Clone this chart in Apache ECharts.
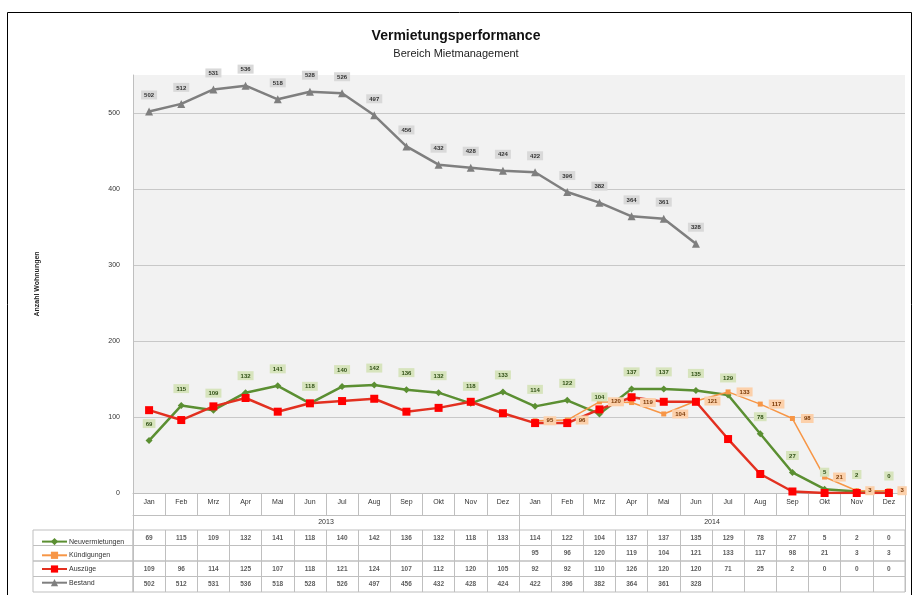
<!DOCTYPE html>
<html>
<head>
<meta charset="utf-8">
<script src="https://cdn.jsdelivr.net/npm/echarts@6/dist/echarts.min.js"></script>
<style>
  html, body { margin: 0; padding: 0; background: #fff; }
  #chart { width: 912px; height: 595px; }
</style>
</head>
<body>
<div id="chart"></div>
<script>
// Kategorien
var months = ["Jan", "Feb", "Mrz", "Apr", "Mai", "Jun", "Jul", "Aug", "Sep", "Okt", "Nov", "Dez",
              "Jan", "Feb", "Mrz", "Apr", "Mai", "Jun", "Jul", "Aug", "Sep", "Okt", "Nov", "Dez"];
var years = ["2013", "2014"];
var yTicks = [0, 100, 200, 300, 400, 500];

// Werte
var neuvermietungen = [69, 115, 109, 132, 141, 118, 140, 142, 136, 132, 118, 133,
                       114, 122, 104, 137, 137, 135, 129, 78, 27, 5, 2, 0];
var kuendigungen = [null, null, null, null, null, null, null, null, null, null, null, null,
                    95, 96, 120, 119, 104, 121, 133, 117, 98, 21, 3, 3];
var auszuege = [109, 96, 114, 125, 107, 118, 121, 124, 107, 112, 120, 105,
                92, 92, 110, 126, 120, 120, 71, 25, 2, 0, 0, 0];
var bestand = [502, 512, 531, 536, 518, 528, 526, 497, 456, 432, 428, 424,
               422, 396, 382, 364, 361, 328, null, null, null, null, null, null];

var names = ["Neuvermietungen", "Kündigungen", "Auszüge", "Bestand"];
var rows = [neuvermietungen, kuendigungen, auszuege, bestand];

var FONT = "Liberation Sans";
var LINE = "#bfbfbf";
var ROW_TOP = 530;
var ROW_H = 15.5;

var grids = [{ left: 133, right: 7, top: 75, bottom: 102, show: true,
               backgroundColor: "#f2f2f2", borderWidth: 0 }];
var xAxes = [
  { gridIndex: 0, type: "category", data: months,
    axisLine: { lineStyle: { color: LINE } },
    axisTick: { show: true, interval: 0, length: 22, lineStyle: { color: LINE } },
    axisLabel: { fontSize: 7, color: "#333", margin: 6, fontFamily: FONT, interval: 0 } },
  { gridIndex: 0, type: "category", data: years, position: "bottom", offset: 22,
    axisLine: { lineStyle: { color: LINE } },
    axisTick: { show: true, interval: 0, length: 15, lineStyle: { color: LINE } },
    axisLabel: { fontSize: 7, color: "#333", margin: 4, fontFamily: FONT } }
];
var yAxes = [{
  gridIndex: 0, type: "value", min: 0, max: 550, interval: 100,
  name: "Anzahl Wohnungen", nameLocation: "middle", nameGap: 92,
  nameTextStyle: { fontSize: 7, fontWeight: "bold", color: "#222", fontFamily: FONT },
  axisLine: { show: true, lineStyle: { color: LINE } },
  axisTick: { show: false },
  axisLabel: { fontSize: 7, color: "#333", margin: 13, fontFamily: FONT, showMaxLabel: false },
  splitLine: { lineStyle: { color: "#c8c8c8" }, showMaxLine: false }
}];

function labelStyle(bg, color, pos, dist) {
  return { show: true, position: pos, distance: dist, backgroundColor: bg, color: color,
           padding: [2, 3, 1, 3], fontSize: 6, fontWeight: "bold", fontFamily: FONT };
}

var series = [
  { name: "Neuvermietungen", type: "line", data: neuvermietungen,
    xAxisIndex: 0, yAxisIndex: 0,
    symbol: "diamond", symbolSize: 7,
    lineStyle: { color: "#5b8f32", width: 2.5 }, itemStyle: { color: "#5b8f32" },
    label: labelStyle("#d7e4bd", "#2f4f14", "top", 9) },
  { name: "Kündigungen", type: "line", data: kuendigungen,
    xAxisIndex: 0, yAxisIndex: 0,
    symbol: "rect", symbolSize: 5,
    lineStyle: { color: "#f79646", width: 1.5 }, itemStyle: { color: "#f79646" },
    label: labelStyle("#fcd0aa", "#7a3a08", "right", 6) },
  { name: "Auszüge", type: "line", data: auszuege,
    xAxisIndex: 0, yAxisIndex: 0,
    symbol: "rect", symbolSize: 8,
    lineStyle: { color: "#e23020", width: 2.5 }, itemStyle: { color: "#ff0000" } },
  { name: "Bestand", type: "line", data: bestand,
    xAxisIndex: 0, yAxisIndex: 0,
    symbol: "triangle", symbolSize: 8,
    lineStyle: { color: "#7f7f7f", width: 2.5 }, itemStyle: { color: "#7f7f7f" },
    label: labelStyle("#d9d9d9", "#333", "top", 8) }
];

// Datentabelle unter dem Diagramm
rows.forEach(function (vals, r) {
  var top = ROW_TOP + r * ROW_H;
  // Zelle mit Legende
  grids.push({ left: 33, width: 100, top: top, height: ROW_H, show: true,
               borderColor: LINE, borderWidth: 1, backgroundColor: "transparent" });
  var gLeg = grids.length - 1;
  xAxes.push({ gridIndex: gLeg, type: "value", show: false });
  yAxes.push({ gridIndex: gLeg, type: "value", show: false });
  // Zeile mit Werten
  grids.push({ left: 133, right: 7, top: top, height: ROW_H, show: true,
               borderColor: LINE, borderWidth: 1, backgroundColor: "transparent" });
  var g = grids.length - 1;
  xAxes.push({ gridIndex: g, type: "category", data: months,
               axisLine: { show: false }, axisTick: { show: false }, axisLabel: { show: false },
               splitLine: { show: true, interval: 0, lineStyle: { color: LINE } } });
  yAxes.push({ gridIndex: g, type: "value", min: -1, max: 1, show: false,
               splitLine: { show: false } });
  var cells = [];
  vals.forEach(function (v, i) { if (v != null) cells.push([i, 0, v]); });
  series.push({ type: "scatter", xAxisIndex: xAxes.length - 1, yAxisIndex: yAxes.length - 1,
                data: cells, symbolSize: 2, itemStyle: { color: "rgba(0,0,0,0)" }, silent: true,
                label: { show: true, position: "inside", fontSize: 6.5, fontWeight: "bold",
                         color: "#333", fontFamily: FONT,
                         formatter: function (p) { return p.value[2]; } } });
});

var chart = echarts.init(document.getElementById("chart"));
chart.setOption({
  animation: false,
  title: {
    text: "Vermietungsperformance", subtext: "Bereich Mietmanagement",
    left: "center", top: 24, itemGap: 5,
    textStyle: { fontSize: 14, fontWeight: "bold", color: "#111", fontFamily: FONT },
    subtextStyle: { fontSize: 11, color: "#222", fontFamily: FONT }
  },
  legend: {
    data: names, orient: "vertical", left: 36, top: ROW_TOP + 3,
    itemWidth: 25, itemHeight: 9, itemGap: 6.5, selectedMode: false,
    textStyle: { fontSize: 7, color: "#333", fontFamily: FONT, padding: [0, 0, 0, -3] }
  },
  graphic: [{ type: "rect", left: 5, top: 10, shape: { width: 904, height: 600 },
              style: { fill: "none", stroke: "#000", lineWidth: 1 }, silent: true }],
  grid: grids,
  xAxis: xAxes,
  yAxis: yAxes,
  series: series
});
</script>
</body>
</html>
